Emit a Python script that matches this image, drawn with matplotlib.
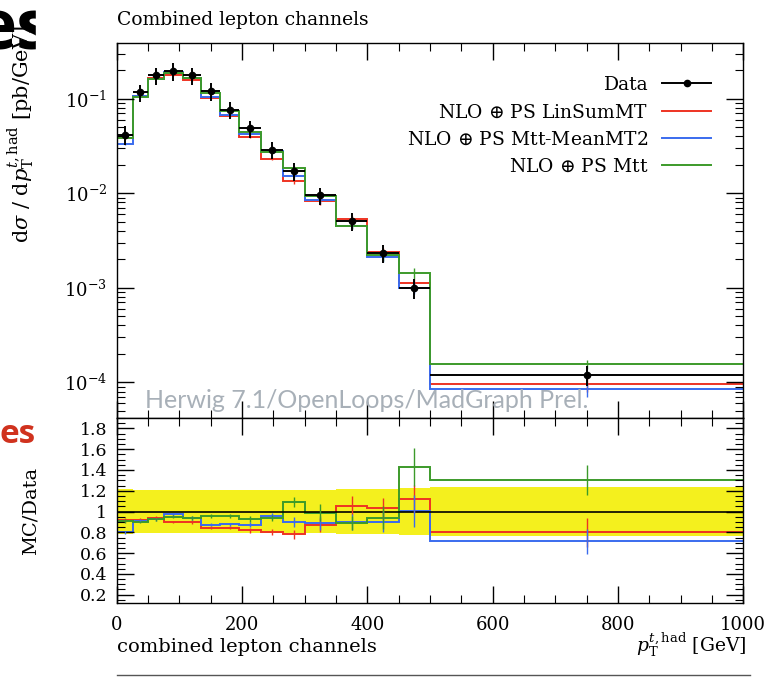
import numpy as np
import matplotlib
matplotlib.use('Agg')
import matplotlib.pyplot as plt
from matplotlib.ticker import MultipleLocator, FixedLocator, LogLocator, NullFormatter
from matplotlib.lines import Line2D
from matplotlib.patches import Rectangle

# pT(t,had) bin edges [GeV]
edges = np.array([0, 25, 50, 75, 105, 135, 165, 195, 230, 265, 300, 350, 400, 450, 500, 1000])

# measured cross section [pb/GeV] and its relative uncertainty
data = np.array([0.0419, 0.117, 0.177, 0.196, 0.177, 0.120, 0.077, 0.0485, 0.0290,
                 0.0171, 0.0095, 0.00507, 0.00234, 0.00100, 1.19e-4])
data_rel_err = np.array([0.22, 0.21, 0.21, 0.21, 0.21, 0.21, 0.21, 0.21, 0.21,
                         0.21, 0.21, 0.22, 0.22, 0.23, 0.24])

# MC predictions [pb/GeV]
mc_linsum = np.array([0.0385, 0.1076, 0.1664, 0.1764, 0.1593, 0.1014, 0.0651, 0.0398, 0.0232,
                      0.01334, 0.00827, 0.00535, 0.00241, 0.00112, 9.5e-5])
mc_meanmt2 = np.array([0.0335, 0.1065, 0.1637, 0.1911, 0.1664, 0.1050, 0.0674, 0.0424, 0.0278,
                       0.01539, 0.00846, 0.00456, 0.00211, 0.001005, 8.5e-5])
mc_mtt = np.array([0.0381, 0.1053, 0.1637, 0.1862, 0.1664, 0.1152, 0.0739, 0.0449, 0.0273,
                   0.01864, 0.00941, 0.00451, 0.00220, 0.00143, 1.55e-4])

# MC statistical relative errors
linsum_rel_err = np.array([0.02, 0.015, 0.015, 0.015, 0.02, 0.02, 0.02, 0.03, 0.035,
                           0.06, 0.08, 0.085, 0.1, 0.12, 0.17])
meanmt2_rel_err = np.array([0.02, 0.015, 0.015, 0.015, 0.02, 0.02, 0.02, 0.03, 0.03,
                            0.055, 0.08, 0.09, 0.11, 0.15, 0.17])
mtt_rel_err = np.array([0.02, 0.015, 0.015, 0.015, 0.02, 0.02, 0.02, 0.03, 0.03,
                        0.045, 0.08, 0.08, 0.12, 0.13, 0.11])

labels = [r'NLO $\oplus$ PS LinSumMT', r'NLO $\oplus$ PS Mtt-MeanMT2', r'NLO $\oplus$ PS Mtt']
colors = ['#EE3322', '#3A6BEE', '#3C9A2A']
models = [mc_linsum, mc_meanmt2, mc_mtt]
model_errs = [linsum_rel_err, meanmt2_rel_err, mtt_rel_err]

plt.rcParams['font.family'] = ['DejaVu Serif']
plt.rcParams['mathtext.fontset'] = 'dejavuserif'

centers = 0.5 * (edges[:-1] + edges[1:])
halfw = 0.5 * np.diff(edges)

fig = plt.figure(figsize=(7.79, 6.77), dpi=100)

# slide remnants to the left of the plot
fig.text(-24 / 779, 1 - 49 / 677, 'es', fontsize=50, fontweight='bold', family=['Open Sans', 'DejaVu Sans'],
         color='black', va='baseline', ha='left', zorder=-2)
fig.text(-1 / 779, 1 - 443 / 677, 'es', fontsize=24, fontweight='bold', family=['Open Sans', 'DejaVu Sans'],
         color='#D0321E', va='baseline', ha='left', zorder=-2)
fig.add_artist(Rectangle((36 / 779, 0), 1, 1, transform=fig.transFigure, color='white', zorder=-1))

ax1 = fig.add_axes([0.150, 0.3826, 0.804, 0.554])
ax2 = fig.add_axes([0.150, 0.1093, 0.804, 0.2733], sharex=ax1)

# --- main panel
for vals, err, col in zip(models, model_errs, colors):
    ax1.stairs(vals, edges, color=col, lw=1.4, baseline=None)
    ax1.errorbar(centers, vals, yerr=vals * err, fmt='none', ecolor=col, elinewidth=1.0)
ax1.errorbar(centers, data, xerr=halfw, yerr=data * data_rel_err, fmt='o', color='black',
             ms=4.5, elinewidth=1.4, capsize=0, zorder=5)

ax1.set_yscale('log')
ax1.set_xlim(0, 1000)
ax1.set_ylim(4.2e-5, 0.39)

handles = [Line2D([], [], color='black', marker='o', ms=4.5, lw=1.4)] + \
          [Line2D([], [], color=c, lw=1.4) for c in colors]
ax1.legend(handles, ['Data'] + labels, loc='upper right', bbox_to_anchor=(0.949, 0.912),
           frameon=False, markerfirst=False, fontsize=13.5, handlelength=2.6,
           handletextpad=0.75, labelspacing=0.5, borderaxespad=0, borderpad=0)

ax1.text(0.045, 0.027, 'Herwig 7.1/OpenLoops/MadGraph Prel.', transform=ax1.transAxes,
         fontsize=18, color='#A8B0B8', family=['Lato', 'DejaVu Sans'], va='baseline')

ax1.set_title('Combined lepton channels', loc='left', fontsize=13.5, pad=13)
ax1.set_ylabel(r'$\mathrm{d}\sigma\ /\ \mathrm{d}p_\mathrm{T}^{t,\mathrm{had}}$ [pb/GeV]', loc='bottom', fontsize=15)
ax1.yaxis.set_label_coords(-0.128, 0.467)

ax1.yaxis.set_major_locator(LogLocator(base=10, numticks=10))
ax1.yaxis.set_minor_locator(LogLocator(base=10, subs=np.arange(2, 10), numticks=20))
ax1.yaxis.set_minor_formatter(NullFormatter())
ax1.tick_params(labelbottom=False)

# --- ratio panel
band_lo = np.r_[1 - data_rel_err, 1 - data_rel_err[-1]]
band_hi = np.r_[1 + data_rel_err, 1 + data_rel_err[-1]]
ax2.fill_between(edges, band_lo, band_hi, step='post', color='#F4F01E', lw=0)
ax2.axhline(1, color='black', lw=1.2)
for vals, err, col in zip(models, model_errs, colors):
    r = vals / data
    ax2.stairs(r, edges, color=col, lw=1.4, baseline=None)
    ax2.errorbar(centers, r, yerr=r * err, fmt='none', ecolor=col, elinewidth=1.0)

ax2.set_ylim(0.12, 1.9)
ratio_ticks = np.round(np.arange(0.2, 1.81, 0.2), 1)
ax2.yaxis.set_major_locator(FixedLocator(ratio_ticks))
ax2.set_yticklabels(['%g' % t for t in ratio_ticks])
ax2.yaxis.set_minor_locator(MultipleLocator(0.05))
ax2.set_ylabel('MC/Data', fontsize=14)
ax2.yaxis.set_label_coords(-0.124, 0.5)

for ax in (ax1, ax2):
    ax.xaxis.set_major_locator(MultipleLocator(200))
    ax.xaxis.set_minor_locator(MultipleLocator(50))
    ax.tick_params(which='both', direction='in', top=True, right=True)
    ax.tick_params(which='major', length=12, width=1.0)
    ax.tick_params(which='minor', length=6, width=0.8)
    ax.tick_params(axis='x', labelsize=13, pad=9)
    for s in ax.spines.values():
        s.set_linewidth(1.0)
ax1.tick_params(axis='y', labelsize=13, pad=7)
ax2.tick_params(axis='y', labelsize=12.5, pad=7)

fig.text(117 / 779, 1 - 652 / 677, 'combined lepton channels', fontsize=14, va='baseline', ha='left')
fig.text(747 / 779, 1 - 652 / 677, r'$p_\mathrm{T}^{t,\mathrm{had}}$ [GeV]', fontsize=13.5,
         va='baseline', ha='right')
fig.add_artist(Line2D([117 / 779, 750 / 779], [1 - 675 / 677] * 2, color='#555555', lw=1.0,
                      transform=fig.transFigure))

fig.savefig('out.png', dpi=100)
